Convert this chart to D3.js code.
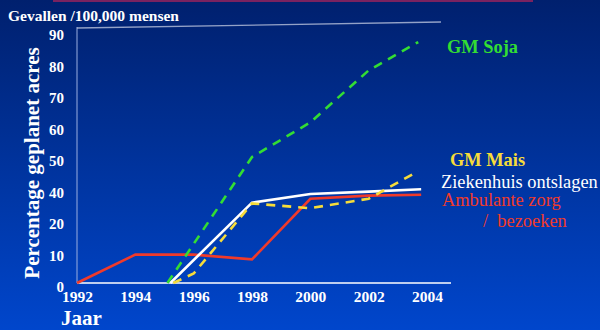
<!DOCTYPE html>
<html>
<head>
<meta charset="utf-8">
<script src="https://cdn.jsdelivr.net/npm/d3@7"></script>
<style>
  body { margin: 0; background: #002272; }
  svg { display: block; }
  text { font-family: "Liberation Serif", "Times New Roman", serif; white-space: pre; }
</style>
</head>
<body>
<div class="graph"></div>
<script>
// data
let years = [1992, 1994, 1996, 1998, 2000, 2002, 2004];
let yTicks = [0, 10, 20, 40, 50, 60, 70, 80, 90]; // the slide skips 30

let soja = [[1995.1, 0], [1998, 50], [2000, 61], [2002, 77.5], [2003.7, 86.5]];
let mais = [[1995.3, 0], [1996, 3], [1998, 30.5], [2000, 27.5], [2002, 33.5], [2003.7, 45.5]];
let ziekenhuis = [[1995.2, 0], [1998, 31], [2000, 36.5], [2002, 38], [2003.8, 39.5]];
let ambulant = [[1992, 0], [1994, 9], [1996, 9], [1998, 7.5], [2000, 33.5], [2002, 35.5], [2003.8, 36]];

let width = 600, height = 330;

let svg = d3.select(".graph").append("svg")
    .attr("width", width)
    .attr("height", height);

let defs = svg.append("defs");
let grad = defs.append("linearGradient")
    .attr("id", "bg")
    .attr("x1", 0).attr("y1", 0).attr("x2", 0).attr("y2", 1);
grad.append("stop").attr("offset", "0%").attr("stop-color", "#00206e");
grad.append("stop").attr("offset", "100%").attr("stop-color", "#0046cc");

svg.append("rect")
    .attr("width", width).attr("height", height)
    .attr("fill", "url(#bg)");

// maroon bar at the very top of the slide
svg.append("rect")
    .attr("x", 53).attr("y", 0)
    .attr("width", 480).attr("height", 2)
    .attr("fill", "#7a2260");

let x = d3.scaleLinear()
    .domain([1992, 2004])
    .range([77, 427]);

// tick labels are evenly spaced, so the scale is piecewise on them
let y = d3.scaleLinear()
    .domain(yTicks)
    .range(yTicks.map((d, i) => 283 - i * 31.5));

// frame lines
svg.append("line")
    .attr("x1", x(1992)).attr("x2", x(1992))
    .attr("y1", 27).attr("y2", y(0))
    .attr("stroke", "#9aaee0").attr("stroke-width", 1);

svg.append("line")
    .attr("x1", x(1992)).attr("y1", 28)
    .attr("x2", 441).attr("y2", 22)
    .attr("stroke", "#b8c2dc").attr("stroke-width", 1.3)
    .attr("opacity", 0.8);

svg.append("line")
    .attr("x1", x(1992)).attr("x2", 451)
    .attr("y1", y(0)).attr("y2", y(0))
    .attr("stroke", "#ffffff").attr("stroke-width", 1.5);

// axes (labels only)
let yAxis = svg.append("g")
    .attr("transform", "translate(" + x(1992) + ",4)")
    .call(d3.axisLeft(y).tickValues(yTicks).tickSize(0).tickPadding(13));
yAxis.select(".domain").remove();
yAxis.selectAll("text")
    .style("font-family", "'Liberation Serif', serif")
    .style("font-weight", "bold")
    .style("font-size", "15px")
    .attr("fill", "#ffffff");

let xAxis = svg.append("g")
    .attr("transform", "translate(0," + y(0) + ")")
    .call(d3.axisBottom(x).tickValues(years).tickFormat(d3.format("d")).tickSize(0).tickPadding(8));
xAxis.select(".domain").remove();
xAxis.selectAll("text")
    .style("font-family", "'Liberation Serif', serif")
    .style("font-weight", "bold")
    .style("font-size", "15.5px")
    .attr("fill", "#ffffff");

let line = d3.line()
    .x(d => x(d[0]))
    .y(d => y(d[1]));

let series = [
    {data: ambulant, color: "#f03a2a", dash: null},
    {data: ziekenhuis, color: "#ffffff", dash: null},
    {data: mais, color: "#f6dc3a", dash: "9,7"},
    {data: soja, color: "#33dd33", dash: "9,7"}
];

svg.selectAll("path.series")
    .data(series)
    .join("path")
    .attr("class", "series")
    .attr("d", d => line(d.data))
    .attr("fill", "none")
    .attr("stroke", d => d.color)
    .attr("stroke-width", 2.6)
    .attr("stroke-dasharray", d => d.dash);

// titles
svg.append("text")
    .attr("x", 8).attr("y", 21)
    .attr("font-weight", "bold")
    .attr("font-size", "15.5px")
    .attr("fill", "#ffffff")
    .text("Gevallen /100,000 mensen");

svg.append("text")
    .attr("transform", "translate(39,163) rotate(-90)")
    .attr("text-anchor", "middle")
    .attr("font-weight", "bold")
    .attr("font-size", "21px")
    .attr("fill", "#ffffff")
    .text("Percentage geplanet acres");

svg.append("text")
    .attr("x", 61).attr("y", 325)
    .attr("font-weight", "bold")
    .attr("font-size", "21px")
    .attr("fill", "#ffffff")
    .text("Jaar");

// series labels
let labels = [
    {t: "GM Soja", x: 447, y: 53, c: "#33dd33", b: true},
    {t: "GM Mais", x: 450, y: 166, c: "#f6dc3a", b: true},
    {t: "Ziekenhuis ontslagen", x: 441, y: 188, c: "#ffffff", b: false},
    {t: "Ambulante zorg", x: 442, y: 206, c: "#f03a2a", b: false},
    {t: "/  bezoeken", x: 483, y: 227, c: "#f03a2a", b: false}
];

svg.selectAll("text.lab")
    .data(labels)
    .join("text")
    .attr("class", "lab")
    .attr("x", d => d.x).attr("y", d => d.y)
    .attr("font-weight", d => d.b ? "bold" : "normal")
    .attr("font-size", "18.4px")
    .attr("fill", d => d.c)
    .text(d => d.t);
</script>
</body>
</html>
